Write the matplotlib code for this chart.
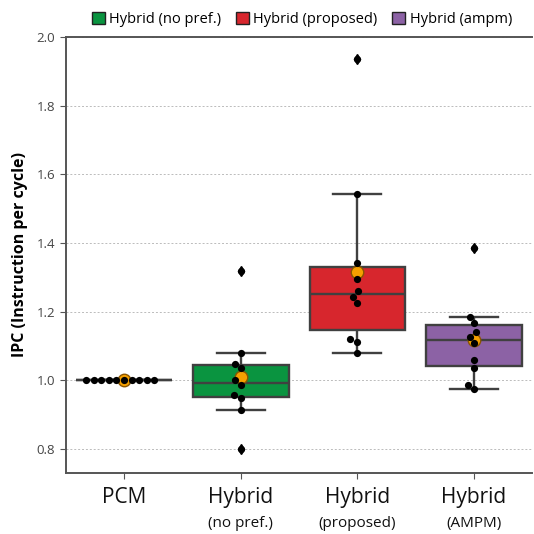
import matplotlib
matplotlib.use("Agg")
import matplotlib.pyplot as plt
import matplotlib.patches as mpatches
import seaborn as sns
import pandas as pd
import numpy as np

categories = ["PCM", "Hybrid (no pref.)", "Hybrid (proposed)", "Hybrid (ampm)"]
main_labels = ["PCM", "Hybrid", "Hybrid", "Hybrid"]
sub_labels = ["", "(no pref.)", "(proposed)", "(AMPM)"]
legend_labels = ["Hybrid (no pref.)", "Hybrid (proposed)", "Hybrid (ampm)"]

pcm = [1.0] * 10
no_pref = [0.799, 0.913, 0.950, 0.957, 0.986, 1.001, 1.035, 1.049, 1.080, 1.318]
proposed = [1.080, 1.112, 1.119, 1.226, 1.244, 1.261, 1.295, 1.341, 1.543, 1.935]
ampm = [0.974, 0.986, 1.035, 1.059, 1.110, 1.127, 1.140, 1.168, 1.185, 1.384]

yticks = [0.8, 1.0, 1.2, 1.4, 1.6, 1.8, 2.0]

colors = ["#4c72b0", "#0a9440", "#d7262d", "#8c62a5"]

plt.rcParams['font.family'] = ['Open Sans', 'DejaVu Sans']

df = pd.DataFrame({
    "cat": sum([[c] * len(v) for c, v in zip(categories, [pcm, no_pref, proposed, ampm])], []),
    "ipc": pcm + no_pref + proposed + ampm,
})

fig = plt.figure(figsize=(5.34, 5.34), dpi=100)
ax = fig.add_axes([0.123, 0.114, 0.874, 0.817])

ax.set_axisbelow(True)
ax.yaxis.grid(True, linestyle=(0, (2, 2)), color="#bbbbbb", linewidth=0.7)

edge = "#404040"
sns.boxplot(data=df, x="cat", y="ipc", order=categories, hue="cat", hue_order=categories,
            palette=colors, legend=False, width=0.82, linewidth=1.7, linecolor=edge,
            saturation=1, showmeans=True, ax=ax,
            meanprops=dict(marker="o", markerfacecolor="#f5a000", markeredgecolor="#8a5500",
                           markersize=9, markeredgewidth=1),
            flierprops=dict(marker="d", markerfacecolor="black", markeredgecolor="black",
                            markersize=5),
            medianprops=dict(color=edge), whiskerprops=dict(color=edge), capprops=dict(color=edge))

sns.swarmplot(data=df, x="cat", y="ipc", order=categories, color="black", size=5.2, ax=ax)

ax.set_xlim(-0.5, 3.5)
ax.set_ylim(0.73, 2.0)
ax.set_yticks(yticks)
ax.set_yticklabels([f"{t:.1f}" for t in yticks], fontsize=9.5, color="#444444")
ax.set_xticks(range(4))
ax.set_xticklabels(main_labels, fontsize=15, color="#111111")
ax.tick_params(axis="x", pad=6, length=4, color="#555555")
ax.tick_params(axis="y", length=4, color="#555555")
for i, s in enumerate(sub_labels):
    if s:
        ax.text(i, -0.116, s, transform=ax.get_xaxis_transform(), ha="center", va="center",
                fontsize=11, color="#111111")
ax.set_xlabel("")
ax.set_ylabel("IPC (Instruction per cycle)", fontsize=11.5, fontweight="bold", labelpad=6)

for side in ["left", "bottom", "top"]:
    ax.spines[side].set_color("#555555")
    ax.spines[side].set_linewidth(1.4)
ax.spines["right"].set_visible(False)

handles = [mpatches.Patch(facecolor=c, edgecolor="#222222", linewidth=1) for c in colors[1:]]
fig.legend(handles, legend_labels, loc="center", bbox_to_anchor=(0.565, 0.964), ncol=3,
           frameon=False, fontsize=10.5, handlelength=0.9, handleheight=0.9, handletextpad=0.3,
           columnspacing=1.0)

fig.savefig("out.png", dpi=100)
